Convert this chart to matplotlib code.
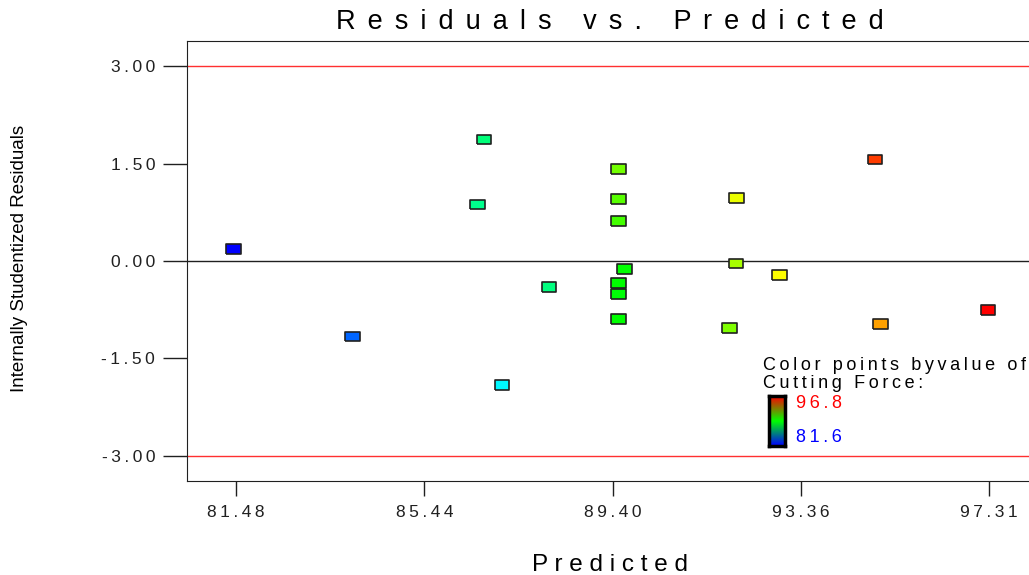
import numpy as np
import matplotlib.pyplot as plt
import matplotlib.colors as mcolors

# ------------------------------- DATA -------------------------------
predicted = [81.42, 83.92, 86.69, 86.56, 87.07, 88.06, 89.52, 89.52, 89.52, 89.65,
             89.52, 89.52, 89.52, 92.00, 91.99, 92.91, 91.86, 94.92, 95.03, 97.30]
residuals = [0.19, -1.16, 1.87, 0.87, -1.91, -0.40, 1.42, 0.95, 0.61, -0.12,
             -0.34, -0.51, -0.89, 0.97, -0.04, -0.21, -1.03, 1.56, -0.97, -0.75]
cuttingForce = [81.6, 83.1, 87.4, 87.1, 85.3, 87.3, 90.9, 90.5, 90.2, 89.2,
                89.2, 89.1, 89.2, 92.7, 91.7, 93.0, 91.1, 95.9, 94.4, 96.8]
xTicks = [81.48, 85.44, 89.40, 93.36, 97.31]
yTicks = [-3.0, -1.5, 0.0, 1.5, 3.0]
forceMin, forceMax = 81.6, 96.8

THIN = '\u2009'
HAIR = '\u200a'


def spaced(text, gap=THIN):
    # mimic the wide letter spacing of the original
    return gap.join(text)


def forceColor(v):
    # hue from blue (low) to red (high)
    frac = (v - forceMin) / (forceMax - forceMin)
    return mcolors.hsv_to_rgb([(1 - frac) * 240 / 360, 1.0, 1.0])


plt.rcParams['font.family'] = ['Liberation Sans', 'DejaVu Sans']

fig = plt.figure(figsize=(10.29, 5.75), dpi=100)
ax = fig.add_axes([187 / 1029, 94 / 575, (1040 - 187) / 1029, 440 / 575])

ax.axhline(3.0, color='#ff3030', lw=1, zorder=1)
ax.axhline(-3.0, color='#ff3030', lw=1, zorder=1)
ax.axhline(0.0, color='#202020', lw=1, zorder=1)

rect = [(-1.5, -1), (1.5, -1), (1.5, 1), (-1.5, 1), (-1.5, -1)]
ax.scatter(predicted, residuals, marker=rect, s=110,
           c=[forceColor(v) for v in cuttingForce],
           edgecolors='#202020', linewidths=1.2, zorder=3)

ax.set_xlim(80.444, 98.39)
ax.set_ylim(-3.385, 3.385)
ax.set_xticks(xTicks)
ax.set_xticklabels([spaced('%.2f' % t) for t in xTicks], fontsize=12.5)
ax.set_yticks(yTicks)
ax.set_yticklabels([spaced('%.2f' % t) for t in yTicks], fontsize=12.5)
ax.tick_params(axis='y', direction='out', length=17, width=1, pad=6, colors='#202020')
ax.tick_params(axis='x', direction='out', length=11, width=1, pad=6, colors='#202020')
for s in ['left', 'bottom', 'top']:
    ax.spines[s].set_color('#202020')
ax.spines['right'].set_visible(False)

fig.text(610 / 1029, 1 - 22 / 575, spaced('Residuals vs. Predicted', ' ' + HAIR + HAIR),
         fontsize=19.5, ha='center', va='center')
fig.text(610 / 1029, 1 - 565 / 575, spaced('Predicted', ' '), fontsize=17.5,
         ha='center', va='center')
fig.text(20 / 1029, 1 - 258 / 575, 'Internally Studentized Residuals', fontsize=13.5,
         rotation=90, ha='center', va='center')

# color legend
fig.text(763 / 1029, 1 - 366 / 575, spaced('Color points byvalue of'), fontsize=13,
         ha='left', va='center')
fig.text(763 / 1029, 1 - 383 / 575, spaced('Cutting Force:'), fontsize=13,
         ha='left', va='center')
cax = fig.add_axes([769 / 1029, 1 - 446 / 575, 16 / 1029, 50 / 575])
cmap = mcolors.LinearSegmentedColormap.from_list('bgr', ['blue', '#00ff00', 'red'])
cax.imshow(np.linspace(0, 1, 100).reshape(-1, 1), cmap=cmap, aspect='auto', origin='lower')
cax.set_xticks([])
cax.set_yticks([])
for s in cax.spines.values():
    s.set_linewidth(2.5)
    s.set_color('black')
fig.text(796 / 1029, 1 - 403 / 575, spaced('%.1f' % forceMax), fontsize=13, color='red',
         ha='left', va='center')
fig.text(796 / 1029, 1 - 437 / 575, spaced('%.1f' % forceMin), fontsize=13, color='blue',
         ha='left', va='center')

fig.savefig('out.png', dpi=100)
